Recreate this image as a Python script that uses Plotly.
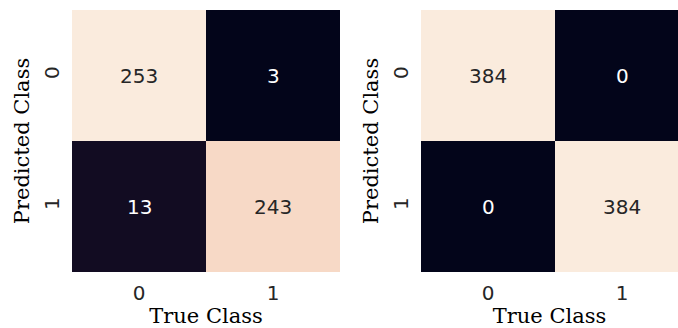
import plotly.graph_objects as go

classes = ["0", "1"]
cm_left = [[253, 3], [13, 243]]
cm_right = [[384, 0], [0, 384]]
x_title = "True Class"
y_title = "Predicted Class"

rocket = [
    [0.0, "#03051A"], [0.04, "#120C22"], [0.1, "#221331"], [0.2, "#451C47"],
    [0.3, "#6A1F56"], [0.4, "#921C5B"], [0.5, "#B91657"], [0.6, "#DA2C48"],
    [0.7, "#EE543F"], [0.8, "#F4875E"], [0.9, "#F6B48F"], [0.96, "#F7D9C6"],
    [1.0, "#FAEBDD"],
]

W, H = 678, 328
fig = go.Figure()

def add_panel(cm, xa, ya):
    zmin = min(min(r) for r in cm)
    zmax = max(max(r) for r in cm)
    fig.add_trace(go.Heatmap(
        z=cm, x=[0, 1], y=[0, 1], colorscale=rocket, zmin=zmin, zmax=zmax,
        showscale=False, xaxis=xa, yaxis=ya, hoverinfo="z"))
    mid = (zmin + zmax) / 2
    for i, row in enumerate(cm):
        for j, v in enumerate(row):
            fig.add_annotation(
                x=j, y=i, xref=xa, yref=ya, text=str(v), showarrow=False,
                font=dict(family="DejaVu Sans", size=20,
                          color="white" if v < mid else "#262626"))

add_panel(cm_left, "x", "y")
add_panel(cm_right, "x2", "y2")

ydom = [1 - 272 / H, 1 - 10 / H]
xcommon = dict(tickmode="array", tickvals=[0, 1], ticktext=classes,
               ticks="outside", ticklen=3, tickcolor="rgba(0,0,0,0)",
               showgrid=False, zeroline=False, showline=False,
               tickfont=dict(family="DejaVu Sans", size=20, color="#262626"),
               title=dict(text=x_title, standoff=5,
                          font=dict(family="DejaVu Serif", size=21, color="black")))
ycommon = dict(tickmode="array", tickvals=[0, 1], ticktext=classes,
               ticks="outside", ticklen=4, tickcolor="rgba(0,0,0,0)",
               tickangle=-90, range=[1.5, -0.5],
               showgrid=False, zeroline=False, showline=False,
               tickfont=dict(family="DejaVu Sans", size=20, color="#262626"),
               title=dict(text=y_title, standoff=4,
                          font=dict(family="DejaVu Serif", size=21, color="black")))

fig.update_layout(
    width=W, height=H, margin=dict(l=0, r=0, t=0, b=0),
    paper_bgcolor="white", plot_bgcolor="white",
    xaxis=dict(domain=[72 / W, 340 / W], range=[-0.5, 1.5], anchor="y", **xcommon),
    yaxis=dict(domain=ydom, anchor="x", **ycommon),
    xaxis2=dict(domain=[421 / W, 1.0], range=[-0.5, 1.5 - 11 / 134], anchor="y2", **xcommon),
    yaxis2=dict(domain=ydom, anchor="x2", **ycommon),
)

fig.write_html("out.html")
